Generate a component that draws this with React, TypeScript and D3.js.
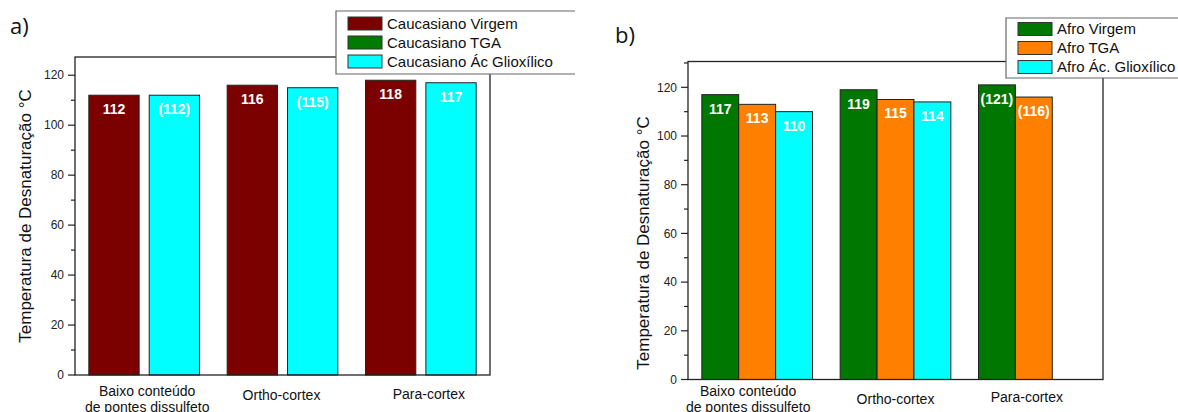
import React from "react";
import * as d3 from "d3";

// ---------- data ----------
const categories = ["Baixo conteúdo|de pontes dissulfeto", "Ortho-cortex", "Para-cortex"];
const yTicks = [0, 20, 40, 60, 80, 100, 120];

const caucNames = ["Caucasiano Virgem", "Caucasiano TGA", "Caucasiano Ác Glioxílico"];
const caucVirgem = [112, 116, 118];
const caucTGA: (number | null)[] = [null, null, null];
const caucGlio = [112, 115, 117];
const caucVirgemLabels = ["112", "116", "118"];
const caucTGALabels = ["", "", ""];
const caucGlioLabels = ["(112)", "(115)", "117"];

const afroNames = ["Afro Virgem", "Afro TGA", "Afro Ác. Glioxílico"];
const afroVirgem = [117, 119, 121];
const afroTGA = [113, 115, 116];
const afroGlio: (number | null)[] = [110, 114, null];
const afroVirgemLabels = ["117", "119", "(121)"];
const afroTGALabels = ["113", "115", "(116)"];
const afroGlioLabels = ["110", "114", ""];

const yTitle = "Temperatura de Desnaturação °C";

type Series = { name: string; color: string; values: (number | null)[]; labels: string[] };

const FONT = "'Liberation Sans', Arial, sans-serif";

function Panel(props: {
  x0: number; x1: number; yTop: number; yBottom: number; yMax: number;
  series: Series[]; innerPad: number; titleX: number; titleY: number;
  catDx: number[]; catDy: number[];
  legend: { x: number; y: number; x2: number; rowH: number; swW: number; swH: number; pad: number };
  tag: string; tagX: number; tagY: number;
}) {
  const { x0, x1, yTop, yBottom, yMax, series, innerPad, legend } = props;
  const x = d3.scaleBand<string>().domain(categories).range([x0, x1]).padding(0);
  const y = d3.scaleLinear().domain([0, yMax]).range([yBottom, yTop]);
  const bw = x.bandwidth();
  const present = series.filter((s) => s.values.some((v) => v != null));
  const inner = d3
    .scaleBand<string>()
    .domain(present.map((s) => s.name))
    .range([bw * 0.1, bw * 0.9])
    .paddingInner(innerPad)
    .paddingOuter(0);
  const minor = d3.range(10, yMax, 20);
  const frame = "#222";
  const legH = legend.pad * 2 + legend.rowH * series.length - (legend.rowH - legend.swH);
  return (
    <g>
      <text x={props.tagX} y={props.tagY} fontFamily="'Open Sans', sans-serif" fontSize={22} fill="#111">
        {props.tag}
      </text>
      {/* bars */}
      {categories.map((c, ci) =>
        present.map((s) => {
          const v = s.values[ci];
          if (v == null) return null;
          const bx = (x(c) as number) + (inner(s.name) as number);
          const w = inner.bandwidth();
          return (
            <g key={c + s.name}>
              <rect x={bx} y={y(v)} width={w} height={y(0) - y(v)} fill={s.color} stroke="#222" strokeWidth={1} />
              {s.labels[ci] ? (
                <text
                  x={bx + w / 2}
                  y={y(v) + 14}
                  dy="0.35em"
                  textAnchor="middle"
                  fill="#fff"
                  fontWeight="bold"
                  fontSize={14}
                  fontFamily={FONT}
                >
                  {s.labels[ci]}
                </text>
              ) : null}
            </g>
          );
        })
      )}
      {/* frame */}
      <rect x={x0} y={yTop} width={x1 - x0} height={yBottom - yTop} fill="none" stroke={frame} strokeWidth={1.3} />
      {/* y ticks */}
      {yTicks.map((t) => (
        <g key={t}>
          <line x1={x0 - 7} x2={x0} y1={y(t)} y2={y(t)} stroke={frame} strokeWidth={1.2} />
          <text x={x0 - 11} y={y(t)} dy="0.35em" textAnchor="end" fontSize={12} fontFamily={FONT} fill="#222">
            {t}
          </text>
        </g>
      ))}
      {minor.map((t) => (
        <line key={"m" + t} x1={x0 - 4} x2={x0} y1={y(t)} y2={y(t)} stroke={frame} strokeWidth={1.2} />
      ))}
      {/* category labels */}
      {categories.map((c, ci) => {
        const lines = c.split("|");
        const cx = (x(c) as number) + bw / 2 + props.catDx[ci];
        return (
          <text key={c} textAnchor="middle" fontSize={14} fontFamily={FONT} fill="#111">
            {lines.map((l, li) => (
              <tspan key={li} x={cx} y={yBottom + props.catDy[ci] + li * 16} dy="0.35em">
                {l}
              </tspan>
            ))}
          </text>
        );
      })}
      {/* y title */}
      <text
        transform={`translate(${props.titleX},${props.titleY}) rotate(-90)`}
        textAnchor="middle"
        dy="0.35em"
        fontSize={17}
        fontFamily={FONT}
        fill="#111"
      >
        {yTitle}
      </text>
      {/* legend */}
      <rect x={legend.x} y={legend.y} width={legend.x2 - legend.x} height={legH} fill="#fff" stroke="none" />
      <path
        d={`M${legend.x2},${legend.y}H${legend.x}V${legend.y + legH}H${legend.x2}`}
        fill="none"
        stroke="#666"
        strokeWidth={1.2}
      />
      {series.map((s, i) => {
        const ry = legend.y + legend.pad + i * legend.rowH;
        return (
          <g key={s.name}>
            <rect x={legend.x + 12} y={ry} width={legend.swW} height={legend.swH} fill={s.color} stroke="#333" strokeWidth={1} />
            <text
              x={legend.x + 12 + legend.swW + 5}
              y={ry + legend.swH / 2}
              dy="0.35em"
              fontSize={15}
              fontFamily={FONT}
              fill="#111"
            >
              {s.name}
            </text>
          </g>
        );
      })}
    </g>
  );
}

export default function App() {
  const caucSeries: Series[] = [
    { name: caucNames[0], color: "#7b0000", values: caucVirgem, labels: caucVirgemLabels },
    { name: caucNames[1], color: "#007a00", values: caucTGA, labels: caucTGALabels },
    { name: caucNames[2], color: "#00ffff", values: caucGlio, labels: caucGlioLabels },
  ];
  const afroSeries: Series[] = [
    { name: afroNames[0], color: "#007700", values: afroVirgem, labels: afroVirgemLabels },
    { name: afroNames[1], color: "#ff8000", values: afroTGA, labels: afroTGALabels },
    { name: afroNames[2], color: "#00ffff", values: afroGlio, labels: afroGlioLabels },
  ];
  return (
    <svg
      width={1178}
      height={412}
      style={{ position: "absolute", left: 0, top: 0, background: "#fff" }}
      xmlns="http://www.w3.org/2000/svg"
    >
      <rect width={1178} height={412} fill="#fff" />
      <Panel
        x0={75}
        x1={490}
        yTop={57}
        yBottom={375}
        yMax={127.3}
        series={caucSeries}
        innerPad={1 / 6}
        titleX={25}
        titleY={216}
        catDx={[3, -1, 8]}
        catDy={[16, 20, 19]}
        legend={{ x: 336, y: 11, x2: 575, rowH: 19, swW: 34, swH: 13, pad: 6 }}
        tag="a)"
        tagX={10}
        tagY={34}
      />
      <Panel
        x0={688}
        x1={1103}
        yTop={61.5}
        yBottom={379.5}
        yMax={130.6}
        series={afroSeries}
        innerPad={0}
        titleX={643}
        titleY={243}
        catDx={[-9, 0, -7]}
        catDy={[12, 20, 18]}
        legend={{ x: 1006, y: 18, x2: 1178, rowH: 19, swW: 34, swH: 13, pad: 4.5 }}
        tag="b)"
        tagX={615}
        tagY={43}
      />
    </svg>
  );
}
